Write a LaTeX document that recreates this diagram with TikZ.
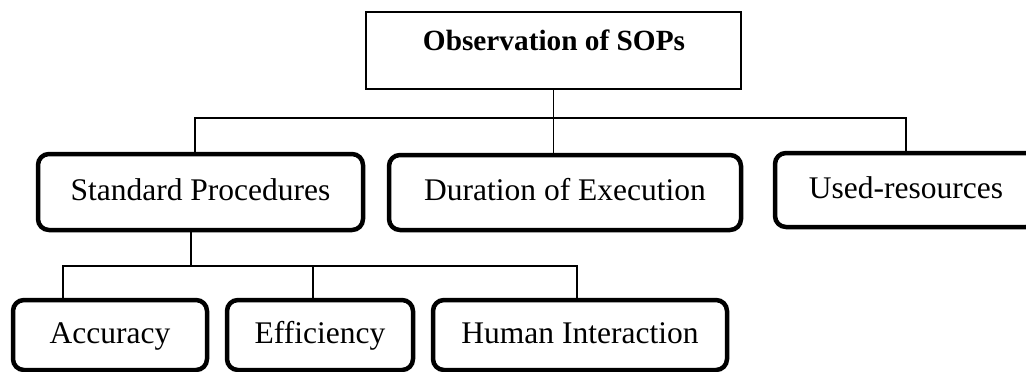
\documentclass[tikz,border=0pt]{standalone}
\usepackage{fontspec}
\setmainfont{Liberation Serif}
\begin{document}
\begin{tikzpicture}[x=1pt,y=-1pt,
  rbox/.style={draw, line width=4.5pt, rounded corners=11pt, inner sep=0pt,
    font=\fontsize{31.5}{36}\selectfont, text height=22pt, text depth=6pt},
  headbox/.style={draw, line width=2.2pt, inner sep=0pt},
  link/.style={line width=1.6pt}]
\useasboundingbox (0,0) rectangle (1026,372);
\clip (0,0) rectangle (1026,372);

% root box and its title
\node[headbox, minimum width=375pt, minimum height=77pt] (top) at (553.5,50.5) {};
\node[anchor=base, font=\bfseries\fontsize{29.3}{34}\selectfont] (title) at (554,50) {Observation of SOPs};

% second level
\node[rbox, minimum width=325pt, minimum height=76pt] (sp)   at (200.5,192) {Standard Procedures};
\node[rbox, minimum width=352pt, minimum height=75pt] (dur)  at (565,192.5) {Duration of Execution};
\node[rbox, minimum width=262pt, minimum height=74pt] (used) at (906,190)   {Used-resources};

% third level
\node[rbox, minimum width=194pt, minimum height=70pt] (acc) at (110,335) {Accuracy};
\node[rbox, minimum width=186pt, minimum height=70pt] (eff) at (320,335) {Efficiency};
\node[rbox, minimum width=294pt, minimum height=70pt] (hum) at (580,335) {Human Interaction};

% root to second level
\coordinate (j1) at (top.south |- 0,118);
\draw[link] (top.south) -- (top.south |- dur.north);
\draw[link] ([xshift=-5.5pt]sp.north) |- (j1) -| (used.north);

% Standard Procedures to third level
\draw[link] ([xshift=-9.5pt]sp.south) -- ++(0,34) coordinate (j2);
\draw[link] ([xshift=-47pt]acc.north) |- (j2) -| ([xshift=-3pt]hum.north);
\draw[link] ([xshift=-7pt]eff.north) -- ([xshift=-7pt]eff.north |- j2);
\end{tikzpicture}
\end{document}
